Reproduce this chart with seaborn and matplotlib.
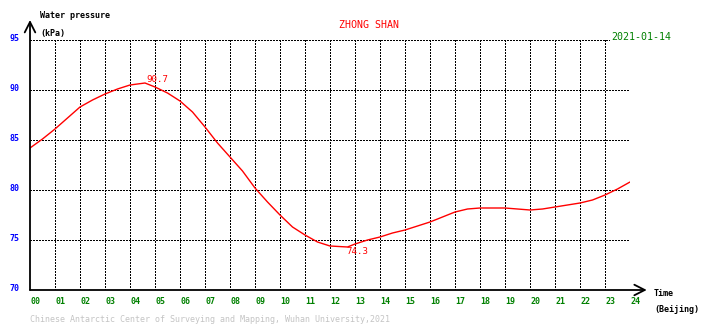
import matplotlib
matplotlib.use("Agg")
import matplotlib.pyplot as plt
from matplotlib.transforms import offset_copy
import seaborn as sns
import pandas as pd

# Water pressure over the day (hour of day, Beijing time -> kPa)
hours = [0, 0.5, 1, 1.5, 2, 2.5, 3, 3.5, 4, 4.6, 5, 5.5, 6, 6.5, 7, 7.5, 8,
         8.5, 9, 9.5, 10, 10.5, 11, 11.5, 12, 12.7, 13, 13.5, 14, 14.5, 15,
         15.5, 16, 16.5, 17, 17.5, 18, 18.5, 19, 19.5, 20, 20.5, 21, 21.5,
         22, 22.5, 23, 23.5, 24]
pressure = [84.2, 85.1, 86.1, 87.2, 88.3, 89.0, 89.6, 90.1, 90.5, 90.7, 90.3,
            89.7, 88.9, 87.8, 86.3, 84.7, 83.3, 81.9, 80.2, 78.8, 77.5, 76.3,
            75.5, 74.8, 74.4, 74.3, 74.6, 75.0, 75.3, 75.7, 76.0, 76.4, 76.8,
            77.3, 77.8, 78.1, 78.2, 78.2, 78.2, 78.1, 78.0, 78.1, 78.3, 78.5,
            78.7, 79.0, 79.5, 80.1, 80.8]

x_labels = [f"{h:02d}" for h in range(25)]
y_ticks = [70, 75, 80, 85, 90, 95]

title = "ZHONG SHAN"
date_text = "2021-01-14"
footer = "Chinese Antarctic Center of Surveying and Mapping, Wuhan University,2021"

sns.set_style("white")
plt.rcParams["font.family"] = ["DejaVu Sans Mono", "DejaVu Sans"]

W, H = 710, 328
fig = plt.figure(figsize=(W / 100, H / 100), dpi=100)
fig.patch.set_facecolor("white")
ax = fig.add_axes([30 / W, (H - 290) / H, 600 / W, 250 / H])
ax.set_facecolor("white")


def px(x, y):
    """Figure fraction from pixel position measured from the top-left."""
    return x / W, 1 - y / H


# dotted grid
dots = (0, (1, 1.1))
for h in range(1, 25):
    ax.axvline(h, color="black", lw=0.75, ls=dots, antialiased=False, zorder=1)
for v in y_ticks[1:]:
    ax.axhline(v, color="black", lw=0.75, ls=dots, antialiased=False, zorder=1)

df = pd.DataFrame({"hour": hours, "kPa": pressure})
sns.lineplot(data=df, x="hour", y="kPa", color="red", lw=1.0, ax=ax, zorder=3)

ax.set_xlim(0, 24)
ax.set_ylim(70, 95)
ax.set_xticks([])
ax.set_yticks([])
ax.set_xlabel("")
ax.set_ylabel("")
for s in ax.spines.values():
    s.set_visible(False)

# axes with open arrow heads
arrow = dict(arrowstyle="->,head_length=0.75,head_width=0.38", lw=1.3,
             color="black", shrinkA=0, shrinkB=0, mutation_scale=10)
ax.annotate("", xy=(0, 97.0), xytext=(0, 70), arrowprops=arrow,
            annotation_clip=False, zorder=5)
ax.annotate("", xy=(24.67, 70), xytext=(0, 70), arrowprops=arrow,
            annotation_clip=False, zorder=5)

# tick labels
fs = 6
for h, lab in enumerate(x_labels):
    ax.text(h, 70, lab, transform=offset_copy(ax.transData, fig, x=0.5, y=-11.5, units="dots"),
            ha="left", va="center", fontsize=fs, color="#008000", fontweight="bold")
for v in y_ticks:
    ax.text(0, v, str(v), transform=offset_copy(ax.transData, fig, x=-11, y=2, units="dots"),
            ha="right", va="center", fontsize=fs, color="#0000ff", fontweight="bold")

# extreme values
i_max = pressure.index(max(pressure))
i_min = pressure.index(min(pressure))
ax.text(hours[i_max], pressure[i_max], f"{pressure[i_max]:.1f}",
        transform=offset_copy(ax.transData, fig, x=1, y=4, units="dots"),
        ha="left", va="center", fontsize=fs + 0.6, color="red", zorder=6)
ax.text(hours[i_min], pressure[i_min], f"{pressure[i_min]:.1f}",
        transform=offset_copy(ax.transData, fig, x=-1, y=-4, units="dots"),
        ha="left", va="center", fontsize=fs + 0.6, color="red", zorder=6)

# titles and axis names
fig.text(*px(40, 16), "Water pressure", ha="left", va="center", fontsize=fs,
         color="black", fontweight="bold")
fig.text(*px(40, 33.5), "(kPa)", ha="left", va="center", fontsize=fs,
         color="black", fontweight="bold")
fig.text(*px(654, 294), "Time", ha="left", va="center", fontsize=fs,
         color="black", fontweight="bold")
fig.text(*px(654, 310), "(Beijing)", ha="left", va="center", fontsize=fs,
         color="black", fontweight="bold")
fig.text(*px(369, 25), title, ha="center", va="center", fontsize=7.2, color="red")
fig.text(*px(641, 36.5), date_text, ha="center", va="center", fontsize=7.2,
         color="#008000", bbox=dict(facecolor="white", edgecolor="none", pad=0.5),
         zorder=6)
fig.text(*px(30, 320), footer, ha="left", va="center", fontsize=fs, color="#c4c4c4")

fig.savefig("out.png", dpi=100, facecolor="white")
